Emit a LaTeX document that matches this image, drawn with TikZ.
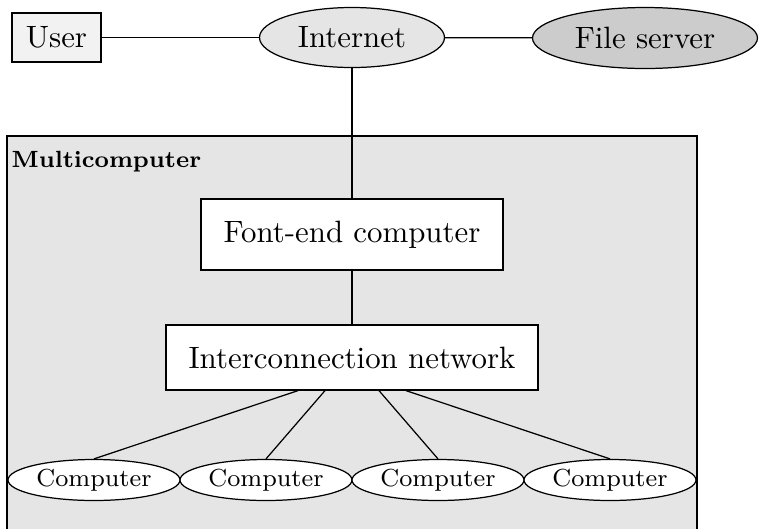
\documentclass[tikz,border=0pt]{standalone}
\usetikzlibrary{shapes.geometric,calc}
\newlength\pxu
\setlength\pxu{0.324pt}
\begin{document}
\begin{tikzpicture}[x=\pxu,y=-\pxu,
  box/.style={draw, rectangle, inner sep=0pt},
  oval/.style={draw, ellipse, inner sep=0pt},
  comp/.style={oval, fill=white, minimum width=172*\pxu, minimum height=41*\pxu, font=\footnotesize},
  link/.style={draw, line width=0.4pt}]
  \clip (0,0) rectangle (761,529);

  % multicomputer enclosure
  \draw[fill=black!10] (7,136) rectangle (697,545);
  \node[anchor=base west, inner sep=0pt, font=\fontsize{7.6}{9}\selectfont\bfseries] (mclabel) at (11,167) {Multicomputer};

  % outside world
  \node[box, fill=black!5, minimum width=89*\pxu, minimum height=49*\pxu] (user) at (56.5,37.5) {User};
  \node[oval, fill=black!10, minimum width=185*\pxu, minimum height=60*\pxu] (inet) at (352,37.5) {Internet};
  \node[oval, fill=black!20, minimum width=225*\pxu, minimum height=61*\pxu] (fs) at (645,38) {File server};

  % inside the multicomputer
  \node[box, fill=white, minimum width=302*\pxu, minimum height=71*\pxu] (fe) at (352,234.5) {Font-end computer};
  \node[box, fill=white, minimum width=372*\pxu, minimum height=65*\pxu] (net) at (352,357.5) {Interconnection network};

  \node[comp] (c1) at (94,480) {Computer};
  \node[comp] (c2) at (266,480) {Computer};
  \node[comp] (c3) at (438,480) {Computer};
  \node[comp] (c4) at (610,480) {Computer};

  % connections
  \path[link] (user) -- (inet);
  \path[link] (inet) -- (fs);
  \path[link] (inet) -- (fe);
  \path[link] (fe) -- (net);
  \path[link] ($(net.south)+(-54,0)$) -- (c1.north);
  \path[link] ($(net.south)+(-27,0)$) -- (c2.north);
  \path[link] ($(net.south)+(27,0)$) -- (c3.north);
  \path[link] ($(net.south)+(54,0)$) -- (c4.north);
\end{tikzpicture}
\end{document}
